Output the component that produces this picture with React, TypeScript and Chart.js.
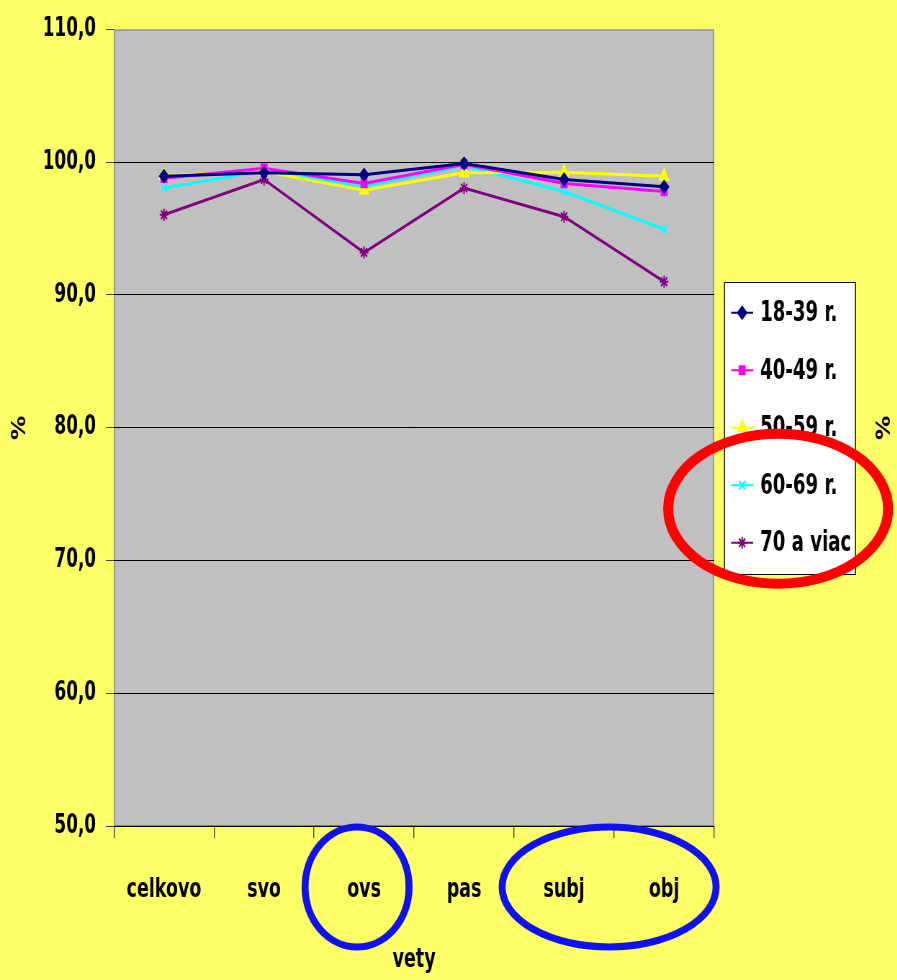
import React, { useEffect, useRef } from 'react';
import { Chart, registerables } from 'chart.js';
import { drawPoint } from 'chart.js/helpers';

Chart.register(...registerables);

const categories = ['celkovo', 'svo', 'ovs', 'pas', 'subj', 'obj'];
const seriesLabels = ['18-39 r.', '40-49 r.', '50-59 r.', '60-69 r.', '70 a viac'];
const s1839 = [98.95, 99.2, 99.05, 99.9, 98.7, 98.15];
const s4049 = [98.8, 99.55, 98.4, 99.85, 98.4, 97.8];
const s5059 = [99.0, 99.3, 97.9, 99.2, 99.25, 98.95];
const s6069 = [98.05, 99.35, 98.2, 99.75, 97.8, 94.95];
const s70 = [96.05, 98.7, 93.2, 98.05, 95.9, 91.0];
const seriesValues = [s1839, s4049, s5059, s6069, s70];
const yMin = 50;
const yMax = 110;
const yStep = 10;
const yTitle = '%';
const xTitle = 'vety';

const colors = ['#000080', '#FF00FF', '#FFFF00', '#00FFFF', '#800080'];
const pointStyles = ['rectRot', 'rect', 'triangle', 'crossRot', 'star'];
const pointRadii = [6, 5.5, 7, 6, 6];

// The reference uses a tall, narrow bold face: render the chart wider and compress it horizontally.
const S = 0.72;
const VIEW_W = 897;
const VIEW_H = 980;
const W = Math.round(VIEW_W / S);

const FONT = "'DejaVu Sans Condensed', 'DejaVu Sans', sans-serif";
const BG = '#FFFF66';
const PLOT_BG = '#C0C0C0';

const decorPlugin = {
  id: 'decor',
  beforeDraw(chart: any) {
    const { ctx, chartArea: ca, width, height } = chart;
    ctx.save();
    ctx.fillStyle = BG;
    ctx.fillRect(0, 0, width, height);
    ctx.fillStyle = PLOT_BG;
    ctx.fillRect(ca.left, ca.top, ca.right - ca.left, ca.bottom - ca.top);
    ctx.scale(1 / S, 1);
    ctx.strokeStyle = '#808080';
    ctx.lineWidth = 1;
    const l = Math.round(ca.left * S) + 0.5;
    const r = Math.round(ca.right * S) - 0.5;
    ctx.strokeRect(l, ca.top + 0.5, r - l, ca.bottom - ca.top - 1);
    ctx.restore();
  },
  afterDraw(chart: any) {
    const { ctx, chartArea: ca } = chart;
    const midY = (ca.top + ca.bottom) / 2;
    const caRight = ca.right * S; // screen px
    const boxL = caRight + 10;
    const boxW = 131;
    const boxH = 292;
    const boxT = midY - boxH / 2;
    const ds = chart.data.datasets;
    const rowY = (i: number) => midY + (i - (ds.length - 1) / 2) * 57.5;

    // legend box and symbols in screen coordinates
    ctx.save();
    ctx.scale(1 / S, 1);
    ctx.fillStyle = '#FFFFFF';
    ctx.fillRect(boxL, boxT, boxW, boxH);
    ctx.strokeStyle = '#000000';
    ctx.lineWidth = 1;
    ctx.strokeRect(Math.round(boxL) + 0.5, Math.round(boxT) + 0.5, boxW, boxH);
    ds.forEach((d: any, i: number) => {
      const y = rowY(i);
      const x0 = boxL + 7;
      ctx.strokeStyle = d.borderColor;
      ctx.lineWidth = 2;
      ctx.beginPath();
      ctx.moveTo(x0, y);
      ctx.lineTo(x0 + 22, y);
      ctx.stroke();
    });
    ctx.restore();

    ctx.save();
    ds.forEach((d: any, i: number) => {
      const y = rowY(i);
      ctx.fillStyle = d.borderColor;
      ctx.strokeStyle = d.borderColor;
      ctx.lineWidth = 2;
      drawPoint(ctx, { pointStyle: d.pointStyle, radius: d.pointRadius, borderWidth: 2, rotation: 0 }, (boxL + 18) / S, y);
      ctx.fillStyle = '#000000';
      ctx.font = `bold 28px ${FONT}`;
      ctx.textAlign = 'left';
      ctx.textBaseline = 'middle';
      ctx.fillText(d.label, (boxL + 36) / S, y + 1);
    });
    // right "%"
    ctx.save();
    ctx.translate((VIEW_W - 12) / S, midY);
    ctx.rotate(-Math.PI / 2);
    ctx.font = `bold 27px ${FONT}`;
    ctx.textAlign = 'center';
    ctx.textBaseline = 'middle';
    ctx.fillStyle = '#000000';
    ctx.fillText(yTitle, 0, 0);
    ctx.restore();
    ctx.restore();

    // ellipses in screen coordinates
    ctx.save();
    ctx.scale(1 / S, 1);
    const xs = chart.scales.x;
    const ly = ca.bottom + 61;
    ctx.strokeStyle = '#1010F0';
    ctx.lineWidth = 7;
    ctx.beginPath();
    ctx.ellipse(xs.getPixelForValue(2) * S - 7, ly, 52, 60, 0, 0, Math.PI * 2);
    ctx.stroke();
    ctx.beginPath();
    ctx.ellipse(((xs.getPixelForValue(4) + xs.getPixelForValue(5)) / 2) * S - 5, ly, 107, 60, 0, 0, Math.PI * 2);
    ctx.stroke();

    ctx.strokeStyle = '#FF0000';
    ctx.lineWidth = 10;
    ctx.beginPath();
    ctx.ellipse(boxL + 54, midY + 81, 110, 75, 0, 0, Math.PI * 2);
    ctx.stroke();
    ctx.restore();
  },
};

export default function App() {
  const ref = useRef<HTMLCanvasElement | null>(null);
  useEffect(() => {
    document.body.style.margin = '0';
    document.body.style.background = BG;
    const canvas = ref.current;
    if (!canvas) return;
    const chart = new Chart(canvas, {
      type: 'line',
      data: {
        labels: categories,
        datasets: seriesValues.map((vals, i) => ({
          label: seriesLabels[i],
          data: vals,
          borderColor: colors[i],
          backgroundColor: colors[i],
          borderWidth: 3,
          pointStyle: pointStyles[i] as any,
          pointRadius: pointRadii[i],
          pointBorderWidth: 2,
          tension: 0,
          fill: false,
        })),
      },
      options: {
        animation: false,
        responsive: false,
        maintainAspectRatio: false,
        devicePixelRatio: 1,
        layout: { padding: { left: 0, right: 183 / S, top: 29, bottom: 0 } },
        plugins: {
          legend: { display: false },
          tooltip: { enabled: false },
        },
        scales: {
          x: {
            type: 'category',
            offset: true,
            afterFit: (s: any) => { s.height = 154; },
            grid: {
              display: true,
              drawOnChartArea: false,
              drawTicks: true,
              tickLength: 12,
              color: '#404040',
              lineWidth: 1 / S,
              offset: true,
            },
            border: { display: true, color: '#000000', width: 1 },
            ticks: {
              color: '#000000',
              padding: 36,
              font: { family: FONT, size: 27, weight: 'bold' },
              maxRotation: 0,
              autoSkip: false,
            },
            title: {
              display: true,
              text: xTitle,
              color: '#000000',
              font: { family: FONT, size: 27, weight: 'bold' },
              padding: { top: 0, bottom: 4 },
            },
          },
          y: {
            min: yMin,
            max: yMax,
            afterFit: (s: any) => { s.width = 114 / S; },
            grid: {
              color: (c: any) => (c.tick && c.tick.value === yMax ? 'rgba(0,0,0,0)' : '#000000'),
              tickLength: 8 / S,
              tickColor: '#404040',
              lineWidth: 1,
            },
            border: { display: false },
            ticks: {
              stepSize: yStep,
              color: '#000000',
              padding: 10 / S,
              font: { family: FONT, size: 26, weight: 'bold' },
              callback: (v: any) => Number(v).toFixed(1).replace('.', ','),
            },
            title: {
              display: true,
              text: yTitle,
              color: '#000000',
              font: { family: FONT, size: 27, weight: 'bold' },
              padding: { top: 12, bottom: 0 },
            },
          },
        },
      },
      plugins: [decorPlugin],
    } as any);
    return () => chart.destroy();
  }, []);
  return (
    <div style={{ width: VIEW_W, height: VIEW_H, background: BG, overflow: 'hidden' }}>
      <div style={{ width: W, height: VIEW_H, transform: `scaleX(${S})`, transformOrigin: '0 0' }}>
        <canvas ref={ref} width={W} height={VIEW_H} style={{ display: 'block', width: W, height: VIEW_H }} />
      </div>
    </div>
  );
}
